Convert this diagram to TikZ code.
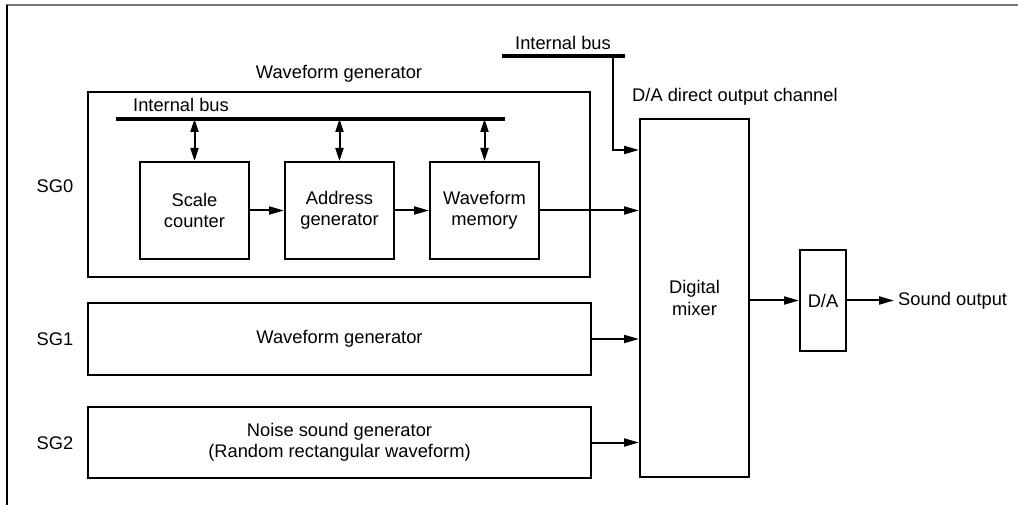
\documentclass[tikz,border=0pt]{standalone}
\usepackage{fontspec}
\setmainfont{Liberation Sans}
\usetikzlibrary{arrows.meta}
\definecolor{framegray}{RGB}{120,120,120}
\begin{document}
\begin{tikzpicture}[x=1pt,y=-1pt,
  font=\fontsize{18.3pt}{21.5pt}\selectfont,
  blk/.style={draw, line width=2pt, inner sep=0pt, align=center},
  arr/.style={line width=2pt, -{Triangle[length=15pt,width=8pt]}},
  darr/.style={line width=2pt, {Triangle[length=13pt,width=8pt]}-{Triangle[length=13pt,width=8pt]}},
  bus/.style={line width=4pt},
  lbl/.style={inner sep=0pt}]
\useasboundingbox (0,0) rectangle (1018,505);
% frame
\draw[framegray, line width=2pt] (6,5) -- (1018,5);
\draw[line width=2pt] (7,5) -- (7,505);

% SG0 outer waveform generator
\node[blk, minimum width=502pt, minimum height=185pt] (wg0) at (339,184.5) {};
\node[lbl] (wg0t) at (339,74) {Waveform generator};
\coordinate (ibL) at (116,119);
\coordinate (ibR) at (505,119);
\draw[bus] (ibL) -- (ibR);
\node[lbl, anchor=base west] (ibt) at (133,112) {Internal bus};

\node[blk, minimum width=109pt, minimum height=97pt] (sc) at (194.5,210.5) {Scale\\counter};
\node[blk, minimum width=109pt, minimum height=97pt] (ag) at (339.5,210.5) {Address\\generator};
\node[blk, minimum width=109pt, minimum height=97pt] (wm) at (484.5,210.5) {Waveform\\memory};

\draw[darr] (sc.north |- ibL) -- (sc.north);
\draw[darr] (ag.north |- ibL) -- (ag.north);
\draw[darr] (wm.north |- ibL) -- (wm.north);
\draw[arr] (sc.east) -- (ag.west);
\draw[arr] (ag.east) -- (wm.west);

% SG1, SG2
\node[blk, minimum width=503pt, minimum height=72pt] (wg1) at (339.5,339) {Waveform generator};
\node[blk, minimum width=503pt, minimum height=71pt] (nsg) at (339.5,442.5) {Noise sound generator\\(Random rectangular waveform)};

\node[lbl] (sg0) at (55,186) {SG0};
\node[lbl] (sg1) at (55,339) {SG1};
\node[lbl] (sg2) at (55,443) {SG2};

% mixer
\node[blk, minimum width=109pt, minimum height=358pt] (mix) at (694.5,298) {Digital\\mixer};
\node[lbl, anchor=west] (dac) at (632,97) {D/A direct output channel};

% top internal bus
\coordinate (tbL) at (502,56);
\coordinate (tbR) at (625,56);
\draw[bus] (tbL) -- (tbR);
\node[lbl, anchor=base] (tbt) at (563,50) {Internal bus};
\coordinate (tbJ) at (613,56);
\coordinate (tbC) at (613,150);
\draw[arr] (tbJ) -- (tbC) -- (tbC -| mix.west);

\draw[arr] (wm.east) -- (wm.east -| mix.west);
\draw[arr] (wg1.east) -- (wg1.east -| mix.west);
\draw[arr] (nsg.east) -- (nsg.east -| mix.west);

% D/A
\node[blk, minimum width=46pt, minimum height=101pt] (da) at (823,300.5) {D/A};
\draw[arr] (mix.east |- da.west) -- (da.west);
\coordinate (so) at (894,300.5);
\draw[arr] (da.east) -- (so);
\node[lbl, anchor=west] (sot) at (898,300.5) {Sound output};
\end{tikzpicture}
\end{document}
